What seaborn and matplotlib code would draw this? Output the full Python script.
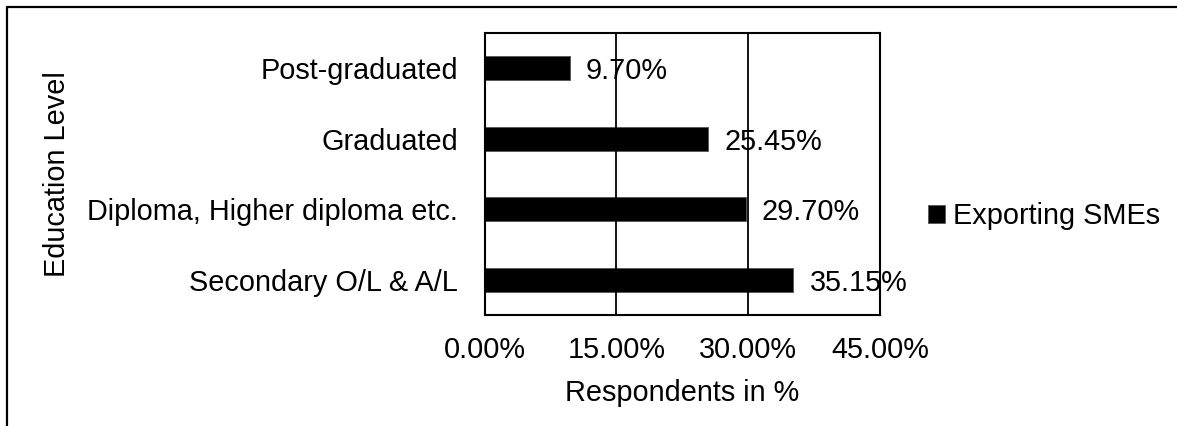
import matplotlib
matplotlib.use("Agg")
import matplotlib.pyplot as plt
from matplotlib.lines import Line2D
import seaborn as sns
import pandas as pd

# Education level of respondents (exporting SMEs)
levels = ["Post-graduated", "Graduated", "Diploma, Higher diploma etc.", "Secondary O/L & A/L"]
shares = [9.70, 25.45, 29.70, 35.15]
xticks = [0, 15, 30, 45]
series_name = "Exporting SMEs"

sns.set_style("white")
plt.rcParams["font.family"] = ["Liberation Sans", "DejaVu Sans"]
plt.rcParams["font.size"] = 20.8
for key in ("text.color", "axes.labelcolor", "xtick.color", "ytick.color"):
    plt.rcParams[key] = "black"

FS = 20.8

df = pd.DataFrame({"level": levels, "share": shares})

fig = plt.figure(figsize=(11.77, 4.26), dpi=100)
ax = fig.add_axes([484.5 / 1177, 1 - 315 / 426, (880 - 484.5) / 1177, (315 - 33) / 426])

sns.barplot(data=df, x="share", y="level", orient="h", color="black",
            width=0.34, edgecolor="#555555", linewidth=0.6, saturation=1,
            label=series_name, ax=ax, zorder=2)

ax.set_xlim(0, 45)
ax.set_xticks(xticks)
ax.set_xticklabels([f"{v:.2f}%" for v in xticks])
ax.tick_params(axis="both", length=0, labelsize=FS, colors="black")
ax.tick_params(axis="y", pad=19)
ax.tick_params(axis="x", pad=15)
ax.set_xlabel("Respondents in %", fontsize=FS, labelpad=11)
ax.set_ylabel("Education Level", fontsize=FS, labelpad=12)

for s in ax.spines.values():
    s.set_visible(True)
    s.set_color("black")
    s.set_linewidth(1.5)

ax.grid(False)
for v in xticks[1:-1]:
    ax.axvline(v, color="black", linewidth=1.3, zorder=4)

for c in ax.containers:
    labels = ax.bar_label(c, labels=[f"{v:.2f}%" for v in shares], padding=11.5,
                          fontsize=FS, color="black")
    for t in labels:
        t.set_zorder(3)
        t.set_va("center_baseline")

leg = ax.legend(loc="center left", bbox_to_anchor=(928 / 1177, 1 - 216 / 426),
                bbox_transform=fig.transFigure, frameon=False, borderpad=0,
                borderaxespad=0, handlelength=0.6, handleheight=0.6,
                handletextpad=0.25, fontsize=FS)

# outer frame: top and left edges
fig.add_artist(Line2D([7 / 1177, 1.0], [1 - 6.5 / 426, 1 - 6.5 / 426],
                      transform=fig.transFigure, color="black", linewidth=1.6))
fig.add_artist(Line2D([7 / 1177, 7 / 1177], [0, 1 - 6.5 / 426],
                      transform=fig.transFigure, color="black", linewidth=1.6))

fig.savefig("out.png", dpi=100)
